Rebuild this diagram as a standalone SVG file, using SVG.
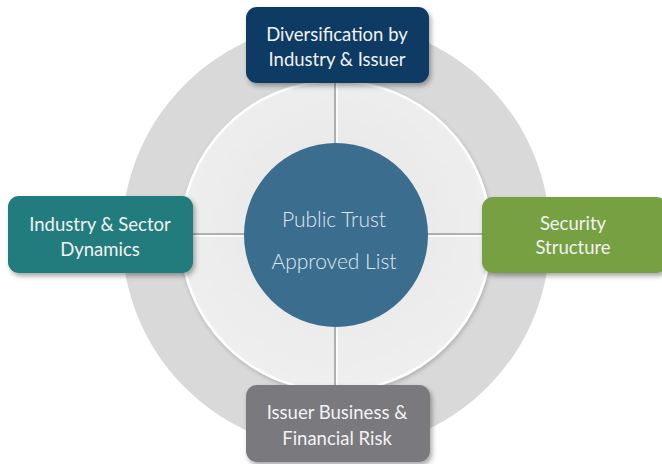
<svg xmlns="http://www.w3.org/2000/svg" width="662" height="464" viewBox="0 0 662 464">
<defs>
<filter id="sh" x="-20%" y="-20%" width="140%" height="150%">
<feDropShadow dx="2" dy="3" stdDeviation="2.5" flood-color="#000" flood-opacity="0.35"/>
</filter>
<filter id="sh2" x="-10%" y="-10%" width="120%" height="120%">
<feDropShadow dx="1" dy="2" stdDeviation="2" flood-color="#000" flood-opacity="0.2"/>
</filter>
<radialGradient id="ig" cx="50%" cy="45%" r="55%">
<stop offset="0" stop-color="#e6e6e6"/>
<stop offset="1" stop-color="#efefef"/>
</radialGradient>
</defs>
<style>
.lbl{font-family:Lato,"Open Sans","Liberation Sans",sans-serif;font-size:18.5px;fill:#f2f2f2;text-anchor:middle}
.ctr{font-family:Lato,"Open Sans","Liberation Sans",sans-serif;font-weight:300;font-size:21px;fill:#dfe7ef;text-anchor:middle}
.box{filter:url(#sh)}
</style>
<rect width="662" height="464" fill="#ffffff"/>
<g id="rings">
<circle cx="336" cy="236" r="214" fill="#d9d9da"/>
<circle cx="336" cy="236" r="155" fill="url(#ig)" stroke="#ffffff" stroke-width="2.5" filter="url(#sh2)"/>
</g>
<g id="connectors">
<line x1="335" y1="80" x2="335" y2="390" stroke="#9a9a9a" stroke-width="1.5"/>
<line x1="337" y1="80" x2="337" y2="390" stroke="#ffffff" stroke-width="1.5"/>
<line x1="190" y1="234" x2="485" y2="234" stroke="#9a9a9a" stroke-width="1.5"/>
<line x1="190" y1="236" x2="485" y2="236" stroke="#ffffff" stroke-width="1.5"/>
</g>
<g id="center">
<circle cx="336" cy="235" r="92" fill="#3b6d8f"/>
<text class="ctr" x="334" y="227">Public Trust</text>
<text class="ctr" x="334" y="269">Approved List</text>
</g>
<g id="top">
<rect class="box" x="246" y="7" width="183" height="76" rx="11" fill="#0e3a64"/>
<text class="lbl" x="337" y="41">Diversification by</text>
<text class="lbl" x="337" y="66">Industry &amp; Issuer</text>
</g>
<g id="left">
<rect class="box" x="8" y="196" width="185" height="77" rx="11" fill="#227b7d"/>
<text class="lbl" x="100" y="231">Industry &amp; Sector</text>
<text class="lbl" x="100" y="256">Dynamics</text>
</g>
<g id="right">
<rect class="box" x="482" y="197" width="185" height="76" rx="11" fill="#76a043"/>
<text class="lbl" x="573" y="230">Security</text>
<text class="lbl" x="573" y="254">Structure</text>
</g>
<g id="bottom">
<rect class="box" x="246" y="385" width="184" height="77" rx="11" fill="#7a797e"/>
<text class="lbl" x="337" y="419">Issuer Business &amp;</text>
<text class="lbl" x="337" y="445">Financial Risk</text>
</g>
</svg>
